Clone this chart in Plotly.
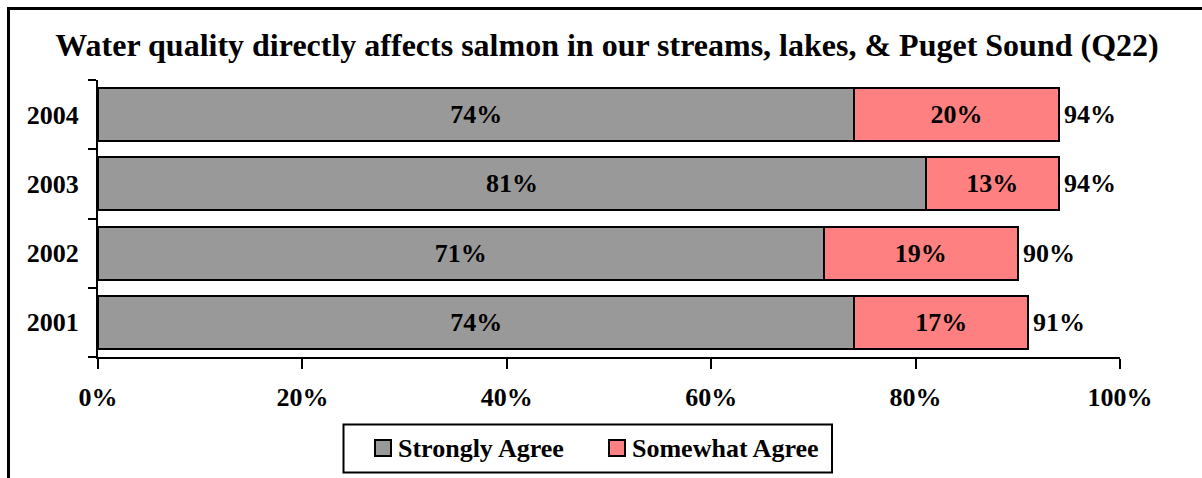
import plotly.graph_objects as go

# Survey results, bottom to top
years = ["2001", "2002", "2003", "2004"]
strongly_agree = [74, 71, 81, 74]
somewhat_agree = [17, 19, 13, 20]
totals = [91, 90, 94, 94]
series_names = ["Strongly Agree", "Somewhat Agree"]
series_colors = ["#999999", "#FF8080"]

x_ticks = [0, 20, 40, 60, 80, 100]
x_tick_labels = ["0%", "20%", "40%", "60%", "80%", "100%"]

FONT = "Liberation Serif, Times New Roman, serif"
W, H = 1202, 478
L, R, T, B = 98, 82, 80, 121
pw, ph = W - L - R, H - T - B


def px_x(p):
    return (p - L) / pw


def px_y(p):
    return (T + ph - p) / ph


label_font = dict(family=FONT, size=26, color="black", weight="bold")

fig = go.Figure()
for name, color, vals in zip(series_names, series_colors, [strongly_agree, somewhat_agree]):
    fig.add_trace(go.Bar(
        y=years, x=vals, orientation="h", name=name,
        marker=dict(color=color, line=dict(color="black", width=2)),
        text=[f"{v}%" for v in vals], textposition="inside",
        insidetextanchor="middle", textfont=label_font,
        showlegend=False,
    ))

# Totals to the right of each bar (category index used for y position)
for i, tot in enumerate(totals):
    fig.add_annotation(
        x=tot, y=i, text=f"{tot}%", showarrow=False, xanchor="left",
        yanchor="middle", xshift=3, font=label_font,
    )

# Legend box with swatches
fig.add_shape(type="rect", xref="paper", yref="paper",
              x0=px_x(343.5), x1=px_x(832), y0=px_y(472.5), y1=px_y(424.5),
              line=dict(color="black", width=2), fillcolor="white")
for name, color, sx, tx in zip(series_names, series_colors, [375, 609], [396, 630]):
    fig.add_shape(type="rect", xref="paper", yref="paper",
                  x0=px_x(sx), x1=px_x(sx + 16), y0=px_y(456), y1=px_y(440),
                  line=dict(color="black", width=2), fillcolor=color)
    fig.add_annotation(xref="paper", yref="paper", x=px_x(tx), y=px_y(448),
                       text=name, showarrow=False, xanchor="left", yanchor="middle",
                       font=label_font)

# Outer frame
fig.add_shape(
    type="rect", xref="paper", yref="paper",
    x0=px_x(8.5), x1=1.3, y0=-0.8, y1=px_y(8.5),
    line=dict(color="black", width=3), layer="above",
)

fig.update_layout(
    width=W, height=H,
    margin=dict(l=L, r=R, t=T, b=B),
    paper_bgcolor="white", plot_bgcolor="white",
    barmode="stack", bargap=0.235,
    font=dict(family=FONT, size=24, color="black", weight="bold"),
    title=dict(
        text="Water quality directly affects salmon in our streams, lakes, & Puget Sound (Q22)",
        x=0.505, xanchor="center", y=1 - 45 / H, yanchor="middle", yref="container",
        font=dict(family=FONT, size=32, color="black", weight="bold"),
    ),
    xaxis=dict(
        range=[0, 100], tickvals=x_ticks, ticktext=x_tick_labels,
        showgrid=False, zeroline=False, showline=True, linecolor="black",
        linewidth=2, ticks="outside", ticklen=10, tickwidth=2,
        tickcolor="black", ticklabelstandoff=6, tickfont=label_font,
    ),
    yaxis=dict(
        type="category", categoryorder="array", categoryarray=years,
        range=[-0.5, 3.5],
        showgrid=False, zeroline=False, showline=True, linecolor="black",
        linewidth=2, ticks="outside", ticklen=8, tickwidth=2,
        tickcolor="black", tickson="boundaries", ticklabelstandoff=12,
        tickfont=label_font,
    ),
    showlegend=False,
)

fig.write_html("out.html")
